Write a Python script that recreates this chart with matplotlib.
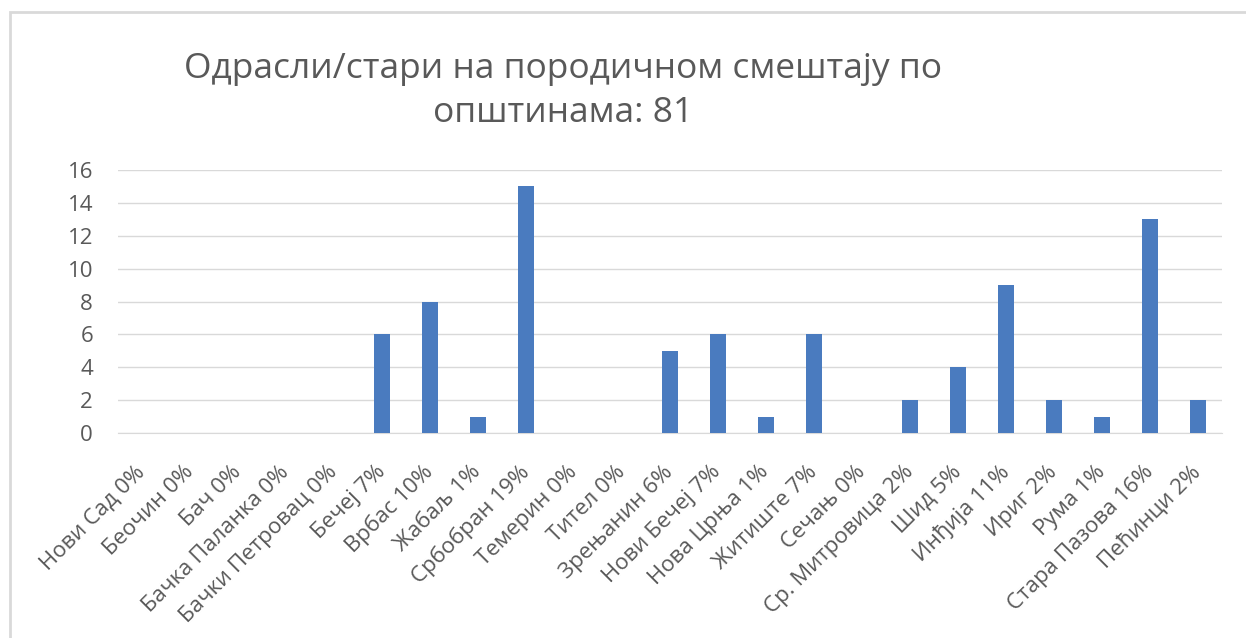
import matplotlib
matplotlib.use("Agg")
import matplotlib.pyplot as plt
from matplotlib.patches import Rectangle
from matplotlib.transforms import ScaledTranslation

categories = ["Нови Сад 0%", "Беочин 0%", "Бач 0%", "Бачка Паланка 0%", "Бачки Петровац 0%",
              "Бечеј 7%", "Врбас 10%", "Жабаљ 1%", "Србобран 19%", "Темерин 0%", "Тител 0%",
              "Зрењанин 6%", "Нови Бечеј 7%", "Нова Црња 1%", "Житиште 7%", "Сечањ 0%",
              "Ср. Митровица 2%", "Шид 5%", "Инђија 11%", "Ириг 2%", "Рума 1%",
              "Стара Пазова 16%", "Пећинци 2%"]
values = [0, 0, 0, 0, 0, 6, 8, 1, 15, 0, 0, 5, 6, 1, 6, 0, 2, 4, 9, 2, 1, 13, 2]
yticks = [0, 2, 4, 6, 8, 10, 12, 14, 16]
title = "Одрасли/стари на породичном смештају по\nопштинама: 81"

plt.rcParams['font.family'] = ['Open Sans', 'DejaVu Sans']
txt = '#595959'

fig = plt.figure(figsize=(12.46, 6.38), dpi=100)
fig.patches.append(Rectangle((10/1246, -0.1), 1.2, 1 - 12/638 + 0.1, transform=fig.transFigure,
                             fill=False, edgecolor='#d9d9d9', linewidth=2))
ax = fig.add_axes([118/1246, 1 - 433/638, (1222 - 118)/1246, (433 - 170)/638])
x = list(range(len(categories)))
ax.bar(x, values, width=0.33, color='#4a7bbf', zorder=3)
ax.set_xlim(-0.5, len(categories) - 0.5)
ax.set_ylim(0, 16)
ax.set_yticks(yticks)
ax.set_yticklabels([str(v) for v in yticks], fontsize=16, color=txt)
ax.set_xticks(x)
ax.set_xticklabels(categories, rotation=45, ha='right', va='center', rotation_mode='anchor',
                   fontsize=16, color=txt)
for lbl in ax.get_xticklabels():
    lbl.set_transform(lbl.get_transform() + ScaledTranslation(-0.02, 0, fig.dpi_scale_trans))
ax.tick_params(axis='both', length=0)
ax.tick_params(axis='y', pad=18)
ax.tick_params(axis='x', pad=26)
ax.yaxis.grid(True, color='#d9d9d9', linewidth=1, zorder=0)
for s in ['top', 'right', 'left']:
    ax.spines[s].set_visible(False)
ax.spines['bottom'].set_color('#d9d9d9')
fig.text(563/1246, 1 - 91/638, title, ha='center', va='center', fontsize=25.5, color=txt,
         linespacing=1.42)
fig.savefig("out.png", dpi=100)
